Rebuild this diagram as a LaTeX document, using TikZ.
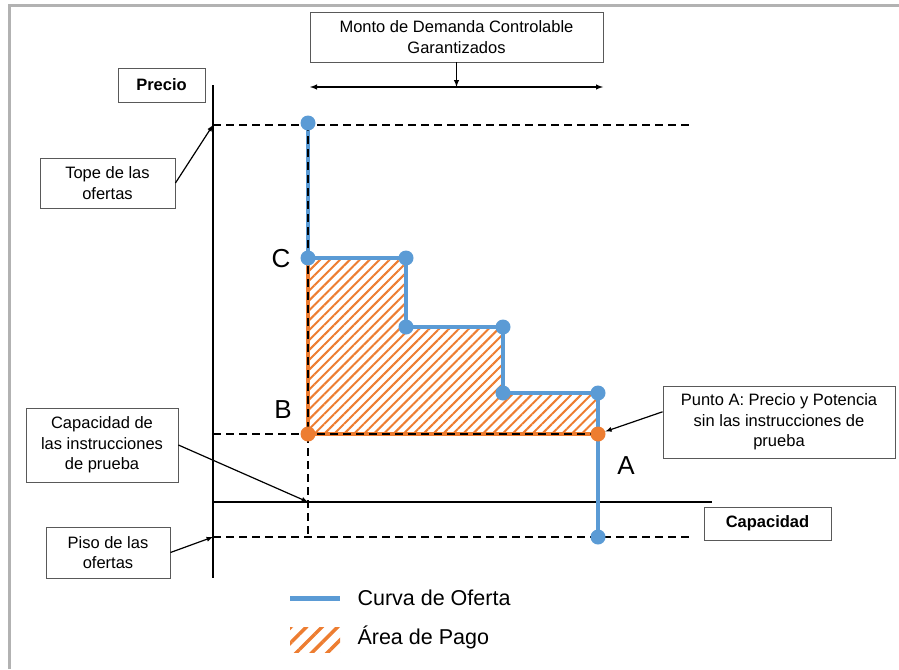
\documentclass[tikz,border=0pt]{standalone}
\usepackage{fontspec}
\setmainfont{Liberation Sans}
\usetikzlibrary{arrows.meta, positioning, calc, patterns.meta}
\definecolor{ofblue}{HTML}{5B9BD5}
\definecolor{oforange}{HTML}{ED7D31}

\begin{document}
\begin{tikzpicture}[x=1pt,y=-1pt,>=latex,
  tbox/.style={draw=black!65, line width=0.9pt, fill=white, align=center,
    inner sep=0pt, font=\fontsize{16.5}{20.5}\selectfont},
  bdot/.style={circle, fill=ofblue, inner sep=0pt, minimum size=15pt},
  odot/.style={circle, fill=oforange, inner sep=0pt, minimum size=15pt},
  guide/.style={line width=1.6pt, dash pattern=on 8pt off 5pt},
  letra/.style={font=\fontsize{26}{26}\selectfont}]

\useasboundingbox (0,0) rectangle (899,669);

% Frame
\draw[black!30, line width=3pt] (9,669) -- (9,6) -- (899,6);

% Axes
\draw[line width=1.6pt] (213,85) -- (213,578);
\draw[line width=1.6pt] (213,502) -- (712,502);

% Area de pago
\fill[pattern={Lines[angle=45,distance=7pt,line width=2pt]}, pattern color=oforange]
  (308,258) -- (406,258) -- (406,327) -- (503,327) -- (503,393)
  -- (598,393) -- (598,434) -- (308,434) -- cycle;
\draw[oforange, line width=4.5pt] (308,258) -- (308,434) -- (598,434);

% Curva de oferta
\coordinate (q0) at (308,123);
\coordinate (q1) at (308,258);
\coordinate (q2) at (406,258);
\coordinate (q3) at (406,327);
\coordinate (q4) at (503,327);
\coordinate (q5) at (503,393);
\coordinate (q6) at (598,393);
\coordinate (q7) at (598,537);
\draw[ofblue, line width=4.5pt] (q0) -- (q1) -- (q2) -- (q3) -- (q4) -- (q5) -- (q6) -- (q7);

% Dashed guides
\draw[guide] (213,125) -- (692,125);
\draw[guide] (213,434) -- (598,434);
\draw[guide] (213,537) -- (692,537);
\draw[guide] (308,123) -- (308,537);

% Dots
\foreach \i in {0,...,7}
  \node[bdot] (d\i) at (q\i) {};
\node[odot] (ptB) at (308,434) {};
\node[odot] (ptA) at (598,434) {};

\node[letra] (lC) at (281,259) {C};
\node[letra] (lB) at (283,410) {B};
\node[letra] (lA) at (626,466) {A};

% Boxes
\node[tbox, minimum width=293pt, minimum height=50pt] (monto) at (456.5,37)
  {Monto de Demanda Controlable\\Garantizados};
\node[tbox, minimum width=87pt, minimum height=34pt, font=\fontsize{16.5}{20}\selectfont\bfseries]
  (precio) at (161.5,85) {Precio};
\node[tbox, minimum width=135pt, minimum height=50pt] (tope) at (107.5,183)
  {Tope de las\\ofertas};
\node[tbox, minimum width=152pt, minimum height=74pt] (capins) at (102,445)
  {Capacidad de\\las instrucciones\\de prueba};
\node[tbox, minimum width=124pt, minimum height=51pt] (piso) at (108,552.5)
  {Piso de las\\ofertas};
\node[tbox, minimum width=232pt, minimum height=72pt] (puntoA) at (779,422)
  {Punto A: Precio y Potencia\\sin las instrucciones de\\prueba};
\node[tbox, minimum width=127pt, minimum height=33pt, font=\fontsize{16.5}{20}\selectfont\bfseries]
  (capacidad) at (767.5,523.5) {Capacidad};

% Arrows
\coordinate (mL) at (310,87);
\coordinate (mR) at (603,87);
\draw[<->, line width=1.4pt] (mL) -- (mR);
\draw[->, line width=1.4pt] (monto.south) -- (monto.south |- mL);
\coordinate (topeY) at (213,125);
\coordinate (capX) at (308,502);
\coordinate (pisoY) at (213,537);
\draw[->, line width=1.2pt] (tope.east) -- (topeY);
\draw[->, line width=1.2pt] (capins.east) -- (capX);
\draw[->, line width=1.2pt] (piso.east) -- (pisoY);
\draw[->, line width=1.2pt] ($(puntoA.north west)!0.36!(puntoA.south west)$) -- (ptA);

% Legend
\draw[ofblue, line width=5pt] (290,598) -- (340,598);
\node[anchor=west, font=\fontsize{21.5}{24}\selectfont] (legCurva) at (354,598) {Curva de Oferta};
\fill[pattern={Lines[angle=45,distance=11pt,line width=3.5pt]}, pattern color=oforange]
  (290,627) rectangle (340,652);
\node[anchor=west, font=\fontsize{21.5}{24}\selectfont] (legArea) at (354,637) {Área de Pago};

\end{tikzpicture}
\end{document}
